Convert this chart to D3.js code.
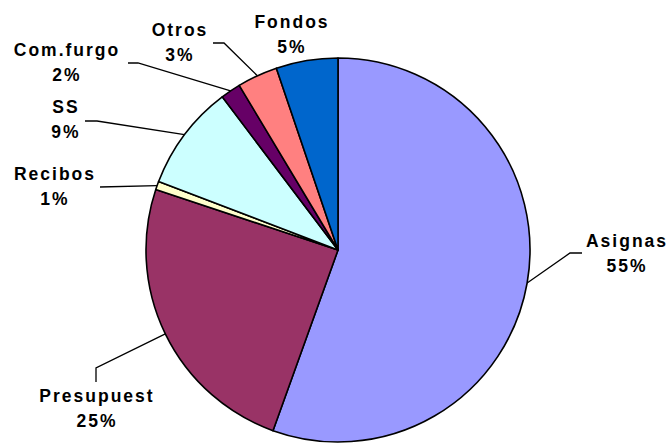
<!DOCTYPE html>
<html>
<head>
<meta charset="utf-8">
<script src="https://cdn.jsdelivr.net/npm/d3@7"></script>
<style>
  body { margin: 0; background: #fff; }
</style>
</head>
<body>
<div id="chart"></div>
<script>
// data, clockwise from 12 o'clock
var categories = ["Asignas", "Presupuest", "Recibos", "SS", "Com.furgo", "Otros", "Fondos"];
var values = [55.5, 24.6, 0.7, 8.9, 1.7, 3.4, 5.2];
var colors = ["#9999FF", "#993366", "#FFFFCC", "#CCFFFF", "#660066", "#FF8080", "#0066CC"];

// label placement: centre x, first baseline, leader start + elbow (null = no leader)
var labelLayout = {
  "Asignas":    {x: 626, y: 247, lead: [[582, 253], [570, 253]]},
  "Presupuest": {x: 96,  y: 402, lead: [[96, 382], [96, 368]]},
  "Recibos":    {x: 54,  y: 180, lead: [[100, 187], [100, 187]]},
  "SS":         {x: 65,  y: 113, lead: [[85, 121], [97, 121]]},
  "Com.furgo":  {x: 66,  y: 56,  lead: [[128, 63], [138, 63]]},
  "Otros":      {x: 179, y: 36,  lead: [[213, 43], [224, 43]]},
  "Fondos":     {x: 291, y: 28,  lead: null}
};

var W = 667, H = 443;
var cx = 338, cy = 250, r = 192;
var spacing = 2;

var svg = d3.select("#chart")
  .append("svg")
  .attr("width", W)
  .attr("height", H);

var total = d3.sum(values);
var data = categories.map(function(c, i) { return {name: c, value: values[i], color: colors[i]}; });

var pie = d3.pie()
  .sort(null)
  .value(function(d) { return d.value; });

var arc = d3.arc().innerRadius(0).outerRadius(r);
var edge = d3.arc().innerRadius(r).outerRadius(r);

var g = svg.append("g")
  .attr("transform", "translate(" + cx + "," + cy + ")");

var arcs = pie(data);

g.selectAll("path.slice")
  .data(arcs)
  .enter()
  .append("path")
  .attr("class", "slice")
  .attr("d", arc)
  .attr("fill", function(d) { return d.data.color; })
  .attr("stroke", "#000")
  .attr("stroke-width", 1.6)
  .attr("stroke-linejoin", "round");

// leader lines
arcs.forEach(function(d) {
  var lay = labelLayout[d.data.name];
  if (!lay.lead) return;
  var p = edge.centroid(d);
  var pts = [lay.lead[0], lay.lead[1], [p[0] + cx, p[1] + cy]];
  svg.append("polyline")
    .attr("points", pts.map(function(q) { return q.join(","); }).join(" "))
    .attr("fill", "none")
    .attr("stroke", "#000")
    .attr("stroke-width", 1.3);
});

// labels (letter-spacing also pads the last glyph, so nudge right by half)
var labels = svg.append("g")
  .attr("font-family", "Arial, 'Liberation Sans', sans-serif")
  .attr("font-weight", "bold")
  .attr("font-size", "17.5px")
  .attr("fill", "#000")
  .attr("text-anchor", "middle")
  .attr("letter-spacing", spacing + "px");

arcs.forEach(function(d) {
  var lay = labelLayout[d.data.name];
  var pct = Math.round(d.data.value / total * 100) + "%";
  labels.append("text")
    .attr("x", lay.x + spacing / 2)
    .attr("y", lay.y)
    .text(d.data.name);
  labels.append("text")
    .attr("x", lay.x + spacing / 2)
    .attr("y", lay.y + 24.5)
    .text(pct);
});
</script>
</body>
</html>
